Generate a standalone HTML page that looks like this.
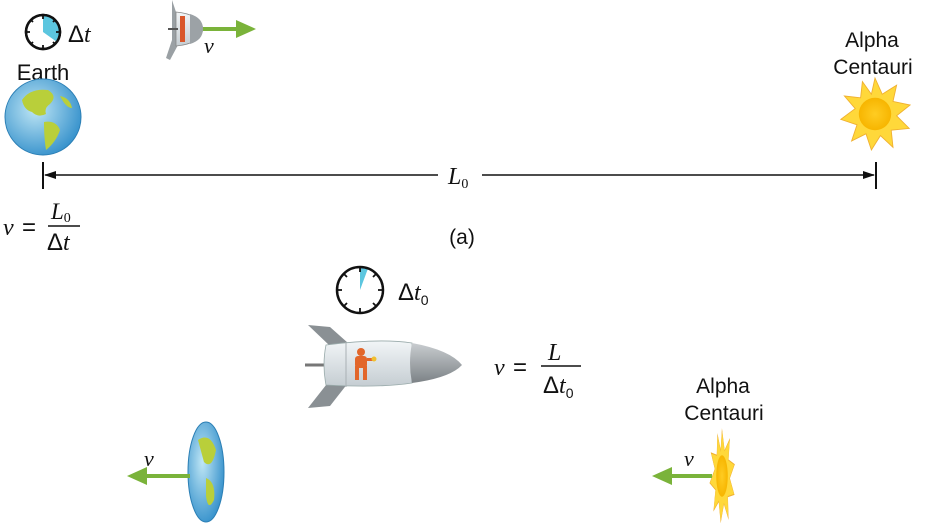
<!DOCTYPE html>
<html><head><meta charset="utf-8"><style>
html,body{margin:0;padding:0;background:#fff;width:927px;height:523px;overflow:hidden}
svg text{font-family:"Liberation Sans",sans-serif;fill:#111}
.it{font-family:"Liberation Serif",serif;font-style:italic}
</style></head><body>
<svg width="927" height="523" viewBox="0 0 927 523" xmlns="http://www.w3.org/2000/svg">
<defs>
<radialGradient id="eg" cx="0.4" cy="0.4" r="0.7"><stop offset="0" stop-color="#bfe6f5"/><stop offset="1" stop-color="#2a8ac8"/></radialGradient>
<radialGradient id="sg" cx="0.5" cy="0.5" r="0.5"><stop offset="0" stop-color="#ffcc22"/><stop offset="1" stop-color="#f7b500"/></radialGradient>
<linearGradient id="rg" x1="0" y1="0" x2="0" y2="1"><stop offset="0" stop-color="#f2f5f7"/><stop offset="1" stop-color="#c5cdd2"/></linearGradient>
<linearGradient id="ng" x1="0" y1="0" x2="0" y2="1"><stop offset="0" stop-color="#c9cdd0"/><stop offset="1" stop-color="#7c8286"/></linearGradient>
</defs>
<!-- top clock -->
<circle cx="43" cy="32" r="17" fill="#fff" stroke="#111" stroke-width="2.5"/>
<path d="M43 32 L43 15 A17 17 0 0 1 57 42 Z" fill="#5cc6df"/>
<circle cx="43" cy="32" r="17" fill="none" stroke="#111" stroke-width="2.5"/>
<path d="M43 15v4M43 49v-4M26 32h4M60 32h-4M31 20l2 2M55 20l-2 2M31 44l2-2M55 44l-2-2" stroke="#111" stroke-width="1.8"/>
<text x="68" y="42" font-size="24">Δ<tspan class="it">t</tspan></text>
<!-- small rocket top -->
<path d="M172 0 L178 18 L178 45 L170 60 L166 58 L172 40 L172 18 Z" fill="#9aa0a4"/>
<path d="M176 12 Q200 14 203 29 Q200 44 176 46 Z" fill="url(#rg)" stroke="#888" stroke-width="0.8"/>
<path d="M190 14 Q203 18 203 29 Q203 40 190 44 Z" fill="#9ca2a6"/>
<rect x="180" y="16" width="5" height="26" fill="#d9572b"/>
<line x1="168" y1="29" x2="178" y2="29" stroke="#555" stroke-width="2"/>
<line x1="203" y1="29" x2="240" y2="29" stroke="#7ab33a" stroke-width="4"/>
<path d="M236 20 L256 29 L236 38 Z" fill="#7ab33a"/>
<text x="204" y="53" font-size="22" class="it">ν</text>
<!-- Earth -->
<text x="43" y="80" font-size="22" text-anchor="middle">Earth</text>
<circle cx="43" cy="117" r="38" fill="url(#eg)" stroke="#2b7fb5" stroke-width="1"/>
<path d="M22 100 Q30 88 48 90 Q58 96 50 104 Q44 108 46 114 Q38 118 32 112 Q24 110 22 100Z M44 122 Q56 120 60 130 Q56 142 46 150 Q44 138 44 122Z M60 96 Q70 98 72 108 Q66 108 60 96Z" fill="#b9cf3a"/>
<!-- main line -->
<line x1="43" y1="162" x2="43" y2="189" stroke="#111" stroke-width="2"/>
<line x1="876" y1="162" x2="876" y2="189" stroke="#111" stroke-width="2"/>
<line x1="45" y1="175" x2="438" y2="175" stroke="#111" stroke-width="1.5"/>
<line x1="482" y1="175" x2="874" y2="175" stroke="#111" stroke-width="1.5"/>
<path d="M44 175 L56 171 L56 179Z M875 175 L863 171 L863 179Z" fill="#111"/>
<text x="448" y="184" font-size="24" class="it">L<tspan font-size="14" font-style="normal" dy="4">0</tspan></text>
<!-- v = L0/dt -->
<text x="3" y="235" font-size="24" class="it">ν</text>
<text x="22" y="235" font-size="24">=</text>
<text x="51" y="219" font-size="23" class="it">L<tspan font-size="14" font-style="normal" dy="3">0</tspan></text>
<line x1="48" y1="226" x2="80" y2="226" stroke="#111" stroke-width="1.5"/>
<text x="47" y="250" font-size="24">Δ<tspan class="it">t</tspan></text>
<text x="462" y="244" font-size="21" text-anchor="middle">(a)</text>
<!-- Alpha Centauri top -->
<text x="872" y="47" font-size="21" text-anchor="middle">Alpha</text>
<text x="873" y="74" font-size="21" text-anchor="middle">Centauri</text>
<g transform="translate(875,114) scale(0.9)">
<path d="M0 -40 L8 -22 L24 -32 L20 -14 L39 -10 L24 2 L38 16 L18 18 L20 37 L6 24 L-4 40 L-10 22 L-26 30 L-20 12 L-38 6 L-22 -6 L-34 -20 L-16 -18 L-14 -36 L-4 -22 Z" fill="#ffd83a" stroke="#f0b030" stroke-width="1"/>
<circle r="18" fill="url(#sg)"/>
</g>
<!-- bottom clock -->
<circle cx="360" cy="290" r="23" fill="#fff"/>
<path d="M360 290 L360 267 L368 268.5 Z" fill="#5cc6df"/>
<circle cx="360" cy="290" r="23" fill="none" stroke="#111" stroke-width="2.5"/>
<path d="M360 267v5M360 313v-5M337 290h5M383 290h-5M344 274l3 3M376 274l-3 3M344 306l3-3M376 306l-3-3" stroke="#111" stroke-width="1.8"/>
<text x="398" y="300" font-size="24">Δ<tspan class="it">t</tspan><tspan font-size="14" dy="5">0</tspan></text>
<!-- rocket -->
<path d="M308 325 L330 327 L348 343 L330 346 Z" fill="#8a9094"/>
<path d="M308 408 L330 406 L348 383 L330 380 Z" fill="#8a9094"/>
<line x1="305" y1="365" x2="345" y2="365" stroke="#777" stroke-width="3"/>
<path d="M326 345 Q380 338 412 343 L412 383 Q380 388 326 385 Q322 365 326 345Z" fill="url(#rg)" stroke="#9aa" stroke-width="0.8"/>
<path d="M412 343 Q450 350 462 365 Q450 378 412 383 Q408 363 412 343Z" fill="url(#ng)"/>
<line x1="346" y1="342" x2="346" y2="387" stroke="#a9b0b4" stroke-width="1"/>
<g fill="#e2662a"><circle cx="361" cy="352" r="4"/><rect x="355" y="356" width="12" height="12" rx="3"/><rect x="355" y="366" width="4" height="14"/><rect x="363" y="366" width="4" height="14"/><rect x="367" y="358" width="8" height="3"/></g>
<circle cx="374" cy="359" r="2.5" fill="#f0c030"/>
<!-- v = L/dt0 -->
<text x="494" y="375" font-size="24" class="it">ν</text>
<text x="513" y="375" font-size="24">=</text>
<text x="548" y="360" font-size="24" class="it">L</text>
<line x1="541" y1="366" x2="581" y2="366" stroke="#111" stroke-width="1.5"/>
<text x="543" y="393" font-size="24">Δ<tspan class="it">t</tspan><tspan font-size="14" dy="5">0</tspan></text>
<!-- Alpha Centauri bottom -->
<text x="723" y="393" font-size="21" text-anchor="middle">Alpha</text>
<text x="724" y="420" font-size="21" text-anchor="middle">Centauri</text>
<g transform="translate(722,476) scale(0.32,1.15)">
<path d="M0 -40 L8 -22 L24 -32 L20 -14 L39 -10 L24 2 L38 16 L18 18 L20 37 L6 24 L-4 40 L-10 22 L-26 30 L-20 12 L-38 6 L-22 -6 L-34 -20 L-16 -18 L-14 -36 L-4 -22 Z" fill="#ffd83a" stroke="#f0b030" stroke-width="1"/>
<circle r="18" fill="url(#sg)"/>
</g>
<line x1="668" y1="476" x2="712" y2="476" stroke="#7ab33a" stroke-width="4"/>
<path d="M652 476 L672 467 L672 485 Z" fill="#7ab33a"/>
<text x="684" y="466" font-size="22" class="it">ν</text>
<!-- flat earth -->
<ellipse cx="206" cy="472" rx="18" ry="50" fill="url(#eg)" stroke="#2b7fb5" stroke-width="1"/>
<path d="M198 440 Q210 432 216 450 Q212 470 204 462Z M206 478 Q216 482 214 500 Q208 512 206 496Z" fill="#b9cf3a"/>
<line x1="144" y1="476" x2="190" y2="476" stroke="#7ab33a" stroke-width="4"/>
<path d="M127 476 L147 467 L147 485 Z" fill="#7ab33a"/>
<text x="144" y="466" font-size="22" class="it">ν</text>
</svg>
</body></html>
